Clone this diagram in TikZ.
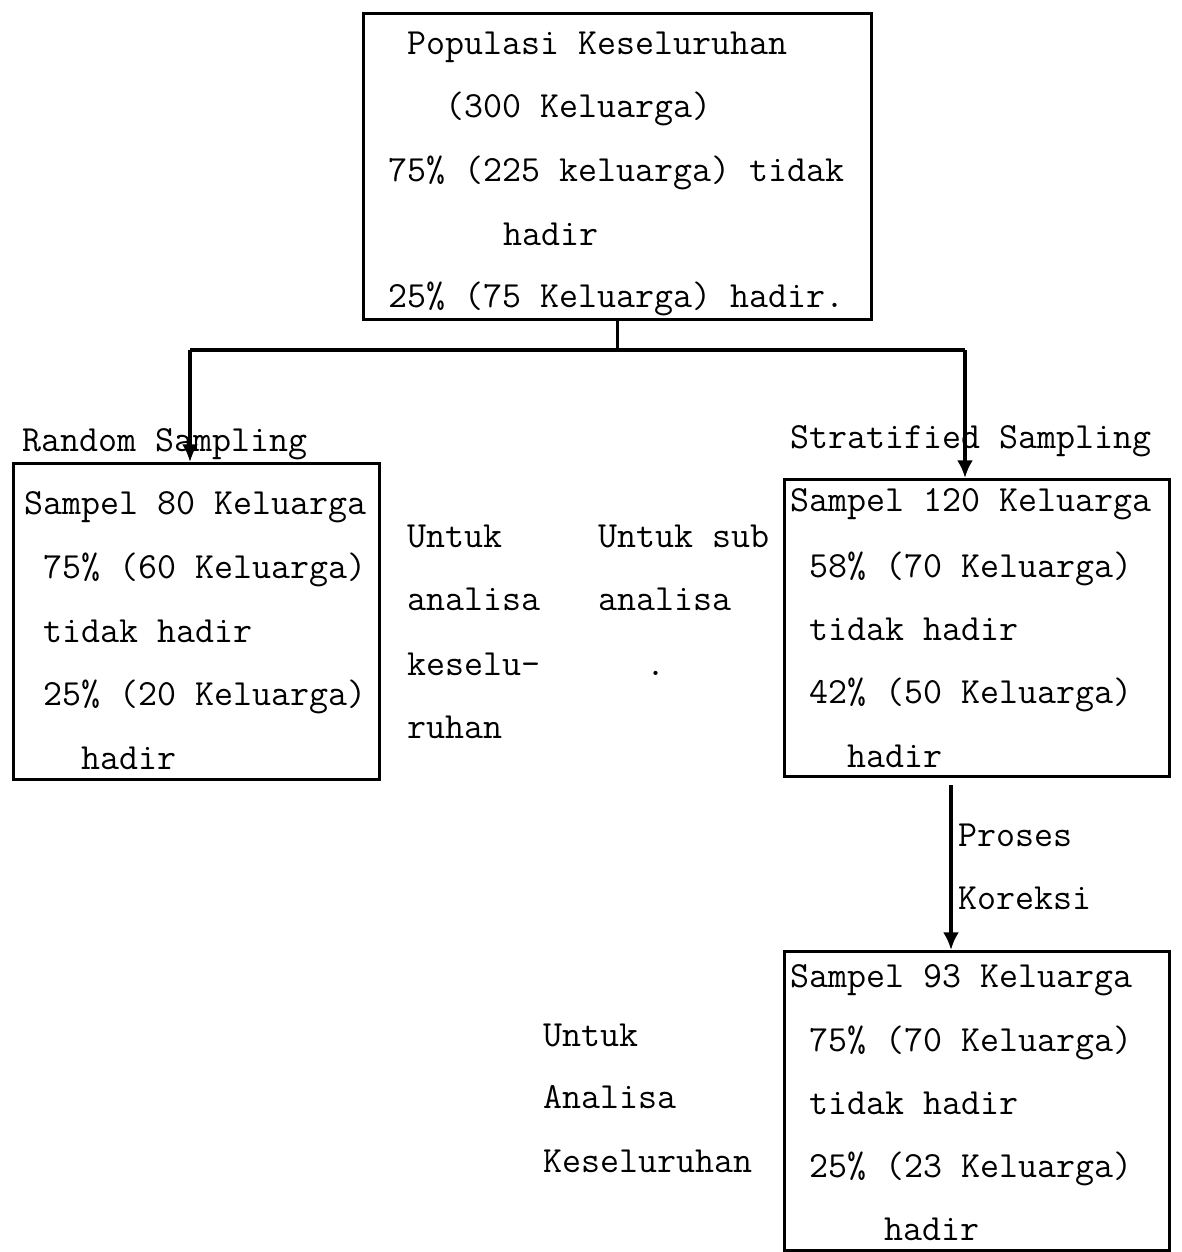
\documentclass[tikz,border=0pt]{standalone}
\usepackage{fontspec}
\usepackage{tikz}
\usetikzlibrary{arrows.meta, positioning}
\tikzset{
  box/.style={draw, line width=1.9pt, anchor=north west, inner sep=0pt},
  txt/.style={anchor=base west, inner sep=0pt, font=\ttfamily\fontsize{21}{25}\selectfont},
  line/.style={line width=1.9pt},
  arr/.style={line width=1.9pt, -{Latex[length=10pt,width=9pt]}}
}

\begin{document}
\begin{tikzpicture}[x=0.02cm,y=-0.02cm]
    \useasboundingbox (0,0) rectangle (1182,1252);

    % Populasi
    \node[box,minimum width=10.16cm,minimum height=6.12cm] (pop) at (362,12) {};
    \node[txt] (pop1) at (407,54) {Populasi Keseluruhan};
    \node[txt] (pop2) at (445,117) {(300 Keluarga)};
    \node[txt] (pop3) at (388,181) {75\% (225 keluarga) tidak};
    \node[txt] (pop4) at (503,245) {hadir};
    \node[txt] (pop5) at (388,307) {25\% (75 Keluarga) hadir.};

    % Random sampling
    \node[box,minimum width=7.32cm,minimum height=6.32cm] (rnd) at (12,462) {};
    \node[txt] (rnd0) at (22,451) {Random Sampling};
    \node[txt] (rnd1) at (24,514) {Sampel 80 Keluarga};
    \node[txt] (rnd2) at (43,578) {75\% (60 Keluarga)};
    \node[txt] (rnd3) at (43,642) {tidak hadir};
    \node[txt] (rnd4) at (43,705) {25\% (20 Keluarga)};
    \node[txt] (rnd5) at (81,769) {hadir};

    % Keterangan tengah
    \node[txt] (ket1) at (407,547) {Untuk};
    \node[txt] (ket2) at (407,610) {analisa};
    \node[txt] (ket3) at (407,675) {keselu-};
    \node[txt] (ket4) at (407,738) {ruhan};
    \node[txt] (sub1) at (598,547) {Untuk sub};
    \node[txt] (sub2) at (598,610) {analisa};
    \node[txt] (sub3) at (646,675) {.};

    % Stratified sampling
    \node[box,minimum width=7.7cm,minimum height=5.94cm] (str) at (783,478) {};
    \node[txt] (str0) at (790,448) {Stratified Sampling};
    \node[txt] (str1) at (790,511) {Sampel 120 Keluarga};
    \node[txt] (str2) at (809,577) {58\% (70 Keluarga)};
    \node[txt] (str3) at (809,640) {tidak hadir};
    \node[txt] (str4) at (809,703) {42\% (50 Keluarga)};
    \node[txt] (str5) at (847,767) {hadir};

    % Koreksi
    \node[txt] (kor1) at (958,846) {Proses};
    \node[txt] (kor2) at (958,909) {Koreksi};

    % Sampel akhir
    \node[box,minimum width=7.7cm,minimum height=5.98cm] (akh) at (783,950) {};
    \node[txt] (akh1) at (790,987) {Sampel 93 Keluarga};
    \node[txt] (akh2) at (809,1051) {75\% (70 Keluarga)};
    \node[txt] (akh3) at (809,1114) {tidak hadir};
    \node[txt] (akh4) at (809,1177) {25\% (23 Keluarga)};
    \node[txt] (akh5) at (884,1240) {hadir};
    \node[txt] (ana1) at (543,1046) {Untuk};
    \node[txt] (ana2) at (543,1108) {Analisa};
    \node[txt] (ana3) at (543,1172) {Keseluruhan};

    % Connectors
    \coordinate (jl) at (190,350);
    \coordinate (jr) at (965,350);
    \coordinate (pk) at (951,785);
    \draw[line] (pop.south) -- (pop.south |- jl);
    \draw[line] (jl) -- (jr);
    \draw[arr] (jl) -- (jl |- rnd.north);
    \draw[arr] (jr) -- (jr |- str.north);
    \draw[arr] (pk) -- (pk |- akh.north);
\end{tikzpicture}
\end{document}
